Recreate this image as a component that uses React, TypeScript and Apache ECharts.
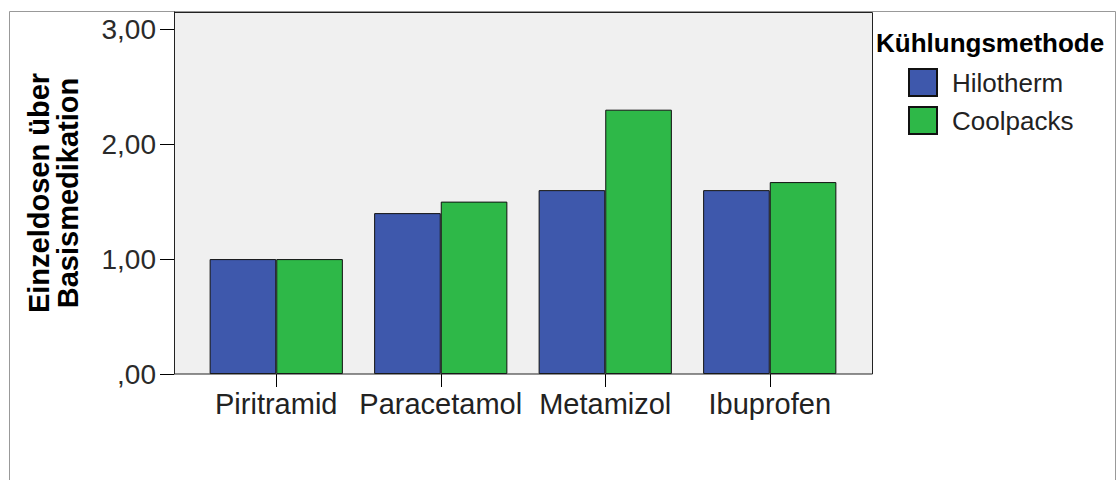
import React, { useEffect, useRef } from "react";
import * as echarts from "echarts";

const categories = ["Piritramid", "Paracetamol", "Metamizol", "Ibuprofen"];
const hilotherm = [1.0, 1.4, 1.6, 1.6];
const coolpacks = [1.0, 1.5, 2.3, 1.67];
const yTicks = [0, 1, 2, 3];
const seriesNames = ["Hilotherm", "Coolpacks"];
const legendTitle = "Kühlungsmethode";
const yTitle = "Einzeldosen über\nBasismedikation";

const fmt = (v: number) => {
  if (!Number.isInteger(v)) return "";
  return v === 0 ? ",00" : v.toFixed(2).replace(".", ",");
};

export default function App() {
  const ref = useRef<HTMLDivElement>(null);
  useEffect(() => {
    if (!ref.current) return;
    const chart = echarts.init(ref.current, undefined, { renderer: "svg" });
    const font = "'Liberation Sans', Arial, sans-serif";
    chart.setOption({
      animation: false,
      backgroundColor: "#ffffff",
      textStyle: { fontFamily: font },
      grid: { left: 194, right: 265, top: 12, bottom: 106, containLabel: false },
      xAxis: {
        type: "category",
        data: categories,
        axisLine: { show: false },
        axisTick: { show: true, alignWithLabel: true, length: 13, lineStyle: { color: "#000", width: 1 } },
        axisLabel: { interval: 0, hideOverlap: false, margin: 15, fontSize: 29, color: "#222", fontFamily: font },
        splitLine: { show: false },
      },
      yAxis: {
        type: "value",
        min: 0,
        max: 3.15,
        interval: 1,
        offset: 20,
        axisLine: { show: true, lineStyle: { color: "#000", width: 1 } },
        axisTick: { show: true, length: 14, customValues: yTicks, lineStyle: { color: "#000", width: 1 } },
        axisLabel: { margin: 18, fontSize: 28, color: "#2a2a2a", fontFamily: font, formatter: fmt, customValues: yTicks },
        splitLine: { show: false },
      },
      legend: {
        orient: "vertical",
        left: 903,
        top: 63,
        itemWidth: 28,
        itemHeight: 27,
        itemGap: 9,
        icon: "rect",
        data: seriesNames,
        textStyle: { fontSize: 26, color: "#222", fontFamily: font, padding: [0, 0, 4, 10] },
      },
      series: [
        {
          name: seriesNames[0],
          type: "bar",
          data: hilotherm,
          barGap: "0%",
          barCategoryGap: "19%",
          itemStyle: { color: "#3E58AC", borderColor: "#111", borderWidth: 1 },
        },
        {
          name: seriesNames[1],
          type: "bar",
          data: coolpacks,
          barGap: "0%",
          barCategoryGap: "19%",
          itemStyle: { color: "#2EB848", borderColor: "#111", borderWidth: 1 },
        },
      ],
      graphic: [
        {
          type: "rect",
          z: -1,
          silent: true,
          shape: { x: 9.5, y: 11.5, width: 1106, height: 480 },
          style: { fill: "none", stroke: "#999", lineWidth: 1 },
        },
        {
          type: "rect",
          z: -1,
          silent: true,
          shape: { x: 174, y: 12, width: 699, height: 362 },
          style: { fill: "#F0F0F0", stroke: "none" },
        },
        {
          type: "rect",
          z: 10,
          silent: true,
          shape: { x: 174.5, y: 12.5, width: 698, height: 361.5 },
          style: { fill: "none", stroke: "#222", lineWidth: 1 },
        },
        {
          type: "text",
          z: 10,
          x: 53,
          y: 193,
          rotation: Math.PI / 2,
          style: {
            text: yTitle,
            font: `bold 29px ${font}`,
            fill: "#000",
            align: "center",
            verticalAlign: "middle",
            lineHeight: 29,
          },
        },
        {
          type: "text",
          z: 10,
          x: 876,
          y: 43,
          style: {
            text: legendTitle,
            font: `bold 26px ${font}`,
            fill: "#000",
            align: "left",
            verticalAlign: "middle",
          },
        },
      ],
    });
    return () => chart.dispose();
  }, []);
  return (
    <div
      ref={ref}
      style={{ position: "fixed", left: 0, top: 0, width: 1117, height: 480 }}
    />
  );
}
